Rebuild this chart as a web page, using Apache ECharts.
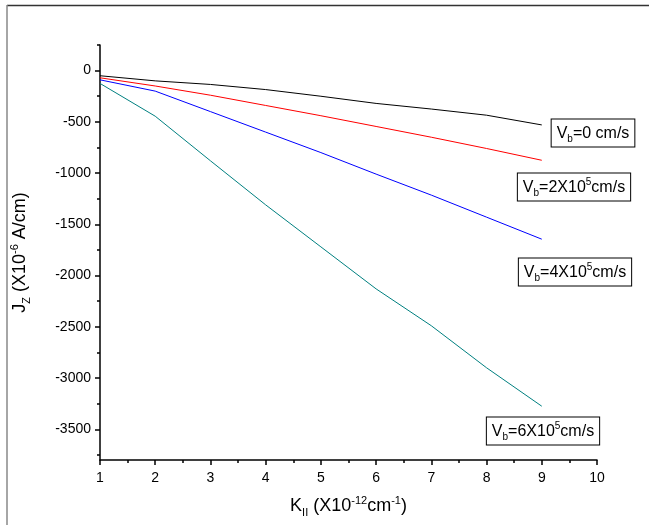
<!DOCTYPE html>
<html>
<head>
<meta charset="utf-8">
<script src="https://cdn.jsdelivr.net/npm/echarts@6/dist/echarts.min.js"></script>
<style>
html, body { margin: 0; padding: 0; background: #fff; }
#chart { width: 649px; height: 525px; }
</style>
</head>
<body>
<div id="chart"></div>
<script>
// K_II values (X10^-12 cm^-1)
var kValues = [1, 2, 3, 4, 5, 6, 7, 8, 9];
// Jz for each beam velocity (X10^-6 A/cm)
var jzVb0 = [-50, -100, -135, -185, -250, -320, -375, -435, -530];
var jzVb2 = [-70, -150, -240, -340, -440, -545, -650, -760, -875];
var jzVb4 = [-90, -200, -400, -600, -800, -1010, -1215, -1430, -1645];
var jzVb6 = [-125, -445, -880, -1310, -1720, -2130, -2490, -2900, -3275];

var yMajorTicks = [-3500, -3000, -2500, -2000, -1500, -1000, -500, 0];
var yMinorTicks = [-3750, -3250, -2750, -2250, -1750, -1250, -750, -250, 250];

var font = 'Liberation Sans, Arial, sans-serif';

function pairs(ys) {
    var out = [];
    for (var i = 0; i < kValues.length; i++) {
        out.push([kValues[i], ys[i]]);
    }
    return out;
}

// rich styles for the boxed labels
var rich = {
    sub: { fontSize: 10, fontFamily: font, padding: [12, 0, 0, 0], color: '#000' },
    sup: { fontSize: 10, fontFamily: font, padding: [0, 0, 10, 0], color: '#000' },
    n: { fontSize: 16, fontFamily: font, color: '#000' }
};
// rich styles for the axis names
var nameRich = {
    sub: { fontSize: 11, fontFamily: font, padding: [13, 0, 0, 0], color: '#000' },
    sup: { fontSize: 11, fontFamily: font, padding: [0, 0, 10, 0], color: '#000' },
    n: { fontSize: 18, fontFamily: font, color: '#000' }
};

function boxLabel(cx, cy, text) {
    return {
        type: 'text',
        x: cx,
        y: cy,
        z: 10,
        style: {
            text: text,
            rich: rich,
            align: 'center',
            verticalAlign: 'middle',
            fill: '#000',
            font: '16px ' + font,
            backgroundColor: '#fff',
            borderColor: '#000',
            borderWidth: 1,
            padding: [3, 5, 2, 5]
        }
    };
}

var chart = echarts.init(document.getElementById('chart'));

var option = {
    backgroundColor: '#fff',
    animation: false,
    grid: { left: 100, right: 52, top: 45, bottom: 65 },
    xAxis: {
        type: 'value',
        min: 1,
        max: 10,
        interval: 1,
        name: '{n|K}{sub|II}{n| (X10}{sup|-12}{n|cm}{sup|-1}{n|)}',
        nameLocation: 'middle',
        nameGap: 34,
        nameTextStyle: { rich: nameRich },
        axisLine: { show: true, onZero: false, lineStyle: { color: '#000', width: 1.5 } },
        axisTick: { show: true, inside: false, length: 5, lineStyle: { color: '#000', width: 1.5 } },
        minorTick: { show: true, splitNumber: 2, length: 3, lineStyle: { color: '#000', width: 1.5 } },
        axisLabel: { color: '#000', fontSize: 14, fontFamily: font, margin: 11 },
        splitLine: { show: false }
    },
    yAxis: [
        {
            type: 'value',
            min: -3800,
            max: 250,
            name: '{n|J}{sub|Z}{n| (X10}{sup|-6}{n| A/cm)}',
            nameLocation: 'middle',
            nameGap: 68,
            nameRotate: 90,
            nameTextStyle: { rich: nameRich },
            axisLine: { show: true, onZero: false, lineStyle: { color: '#000', width: 1.5 } },
            axisTick: { show: true, inside: false, length: 5, customValues: yMajorTicks, lineStyle: { color: '#000', width: 1.5 } },
            axisLabel: {
                color: '#000', fontSize: 14, fontFamily: font, margin: 9,
                customValues: yMajorTicks,
                formatter: function (v) { return String(v); }
            },
            splitLine: { show: false }
        },
        {
            type: 'value',
            position: 'left',
            min: -3800,
            max: 250,
            axisLine: { show: false },
            axisTick: { show: true, inside: false, length: 3, customValues: yMinorTicks, lineStyle: { color: '#000', width: 1.5 } },
            axisLabel: { show: false },
            splitLine: { show: false }
        }
    ],
    series: [
        { type: 'line', data: pairs(jzVb0), showSymbol: false, lineStyle: { color: '#000000', width: 1 } },
        { type: 'line', data: pairs(jzVb2), showSymbol: false, lineStyle: { color: '#ff0000', width: 1 } },
        { type: 'line', data: pairs(jzVb4), showSymbol: false, lineStyle: { color: '#0000ff', width: 1 } },
        { type: 'line', data: pairs(jzVb6), showSymbol: false, lineStyle: { color: '#008080', width: 1 } }
    ],
    graphic: [
        { type: 'line', shape: { x1: 7, y1: 5.5, x2: 649, y2: 5.5 }, style: { stroke: '#333', lineWidth: 1.5 } },
        { type: 'line', shape: { x1: 7, y1: 5, x2: 7, y2: 525 }, style: { stroke: '#888', lineWidth: 1.5 } },
        boxLabel(593, 133, '{n|V}{sub|b}{n|=0 cm/s}'),
        boxLabel(574, 187, '{n|V}{sub|b}{n|=2X10}{sup|5}{n|cm/s}'),
        boxLabel(575, 272, '{n|V}{sub|b}{n|=4X10}{sup|5}{n|cm/s}'),
        boxLabel(543, 431, '{n|V}{sub|b}{n|=6X10}{sup|5}{n|cm/s}')
    ]
};

chart.setOption(option);
</script>
</body>
</html>
